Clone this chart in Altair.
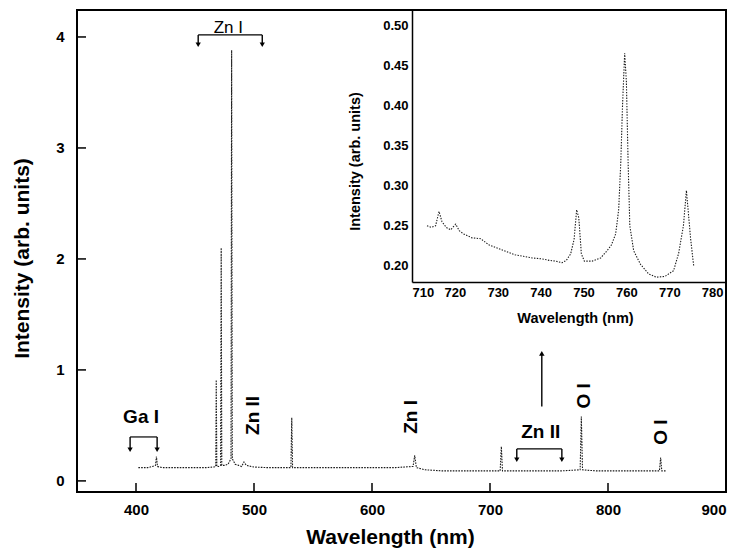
import altair as alt
import pandas as pd

# ---- main spectrum (wavelength nm, intensity arb. units) ----
main_wl = [402, 410, 414, 416.5, 417.3, 418.2, 422, 430, 440, 450,
           460, 466, 467.6, 468.0, 468.5, 470, 471.7, 472.2, 472.7, 475,
           478, 480.5, 481.05, 481.6, 484, 487, 489.5, 491.5, 493.5, 500,
           510, 520, 531.3, 532.0, 532.7, 540, 560, 580, 600, 620,
           634.8, 636.2, 637.6, 645, 660, 680, 700, 708.6, 709.6, 710.6,
           720, 740, 760, 776.4, 777.4, 778.4, 790, 810, 830, 843.6,
           844.6, 845.6, 849]
main_int = [0.12, 0.12, 0.13, 0.14, 0.22, 0.13, 0.12, 0.12, 0.12, 0.12,
            0.12, 0.125, 0.13, 0.91, 0.13, 0.13, 0.14, 2.10, 0.14, 0.14,
            0.15, 0.2, 3.88, 0.2, 0.15, 0.14, 0.13, 0.17, 0.14, 0.125,
            0.12, 0.12, 0.12, 0.57, 0.12, 0.12, 0.12, 0.12, 0.12, 0.12,
            0.13, 0.23, 0.12, 0.1, 0.09, 0.09, 0.09, 0.09, 0.31, 0.09,
            0.09, 0.09, 0.09, 0.1, 0.58, 0.1, 0.09, 0.09, 0.09, 0.09,
            0.21, 0.09, 0.09]

# ---- inset spectrum ----
ins_wl = [713.5, 714.5, 715.5, 716.3, 717, 718, 719, 720.2, 721, 722,
          724, 726, 728, 730, 732, 734, 736, 738, 740, 742,
          743.5, 745, 746, 747, 747.8, 748.4, 748.9, 749.5, 750.2, 752,
          754, 755.5, 756.5, 757.5, 758.2, 758.7, 759.1, 759.6, 760, 760.4,
          760.8, 761.7, 763.3, 765.2, 767, 769, 771, 772.2, 773.3, 774,
          775, 775.7]
ins_int = [0.25, 0.248, 0.25, 0.268, 0.255, 0.248, 0.245, 0.252, 0.244, 0.24,
           0.235, 0.234, 0.226, 0.222, 0.218, 0.214, 0.212, 0.21, 0.209, 0.207,
           0.206, 0.204, 0.207, 0.215, 0.233, 0.27, 0.26, 0.215, 0.206, 0.206,
           0.21, 0.219, 0.226, 0.24, 0.27, 0.33, 0.40, 0.465, 0.43, 0.33,
           0.25, 0.219, 0.202, 0.19, 0.186, 0.187, 0.194, 0.216, 0.25, 0.294,
           0.233, 0.2]

# ---- axis ticks ----
x_ticks = [400, 500, 600, 700, 800, 900]
y_ticks = [0, 1, 2, 3, 4]
ins_x_ticks = [710, 720, 730, 740, 750, 760, 770, 780]
ins_y_ticks = [0.20, 0.25, 0.30, 0.35, 0.40, 0.45, 0.50]

# ---- annotations (data units) ----
lab_plain = ["Zn I"]
lab_plain_x = [478.2]
lab_plain_y = [4.08]

lab_bold = ["Ga I", "Zn II"]
lab_bold_x = [404.3, 743.0]
lab_bold_y = [0.577, 0.44]

lab_rot = ["Zn II", "Zn I", "O I", "O I"]
lab_rot_x = [499.4, 632.7, 779.5, 844.9]
lab_rot_y = [0.59, 0.577, 0.766, 0.44]

# brackets: horizontal segments
br_x1 = [452.7, 395.0, 722.7]
br_x2 = [507.0, 417.9, 760.9]
br_y = [4.018, 0.396, 0.288]
# downward arrows at bracket ends
dn_x = [452.7, 507.0, 395.0, 417.9, 722.7, 760.9]
dn_top = [4.018, 4.018, 0.396, 0.396, 0.288, 0.288]
dn_tip = [3.93, 3.93, 0.28, 0.28, 0.19, 0.19]
# upward arrow pointing to inset
up_x = [743.9]
up_bot = [0.67]
up_tip = [1.15]

FONT = "Liberation Sans"
W, H = 649, 482

main_df = pd.DataFrame({"wl": main_wl, "inten": main_int})
ins_df = pd.DataFrame({"wl": ins_wl, "inten": ins_int})

xs = alt.Scale(domain=[350, 900], nice=False, zero=False)
ys = alt.Scale(domain=[-0.1, 4.243], nice=False, zero=False)

x_axis = alt.Axis(
    values=x_ticks, ticks=False, grid=False, domain=False,
    title="Wavelength (nm)", titleFont=FONT, titleFontSize=21,
    titleFontWeight="bold", titleColor="black",
    titleX=313, titleY=45, titleBaseline="middle", titleAlign="center",
    labelFont=FONT, labelFontSize=15, labelFontWeight="bold",
    labelColor="black", labelPadding=10)
y_axis = alt.Axis(
    values=y_ticks, ticks=False, grid=False, domain=False, format="d",
    title="Intensity (arb. units)", titleFont=FONT, titleFontSize=21,
    titleFontWeight="bold", titleColor="black",
    titleX=-55, titleY=248, titleBaseline="middle", titleAlign="center",
    titleAngle=270,
    labelFont=FONT, labelFontSize=15, labelFontWeight="bold",
    labelColor="black", labelPadding=13)


def X(field):
    return alt.X(field, scale=xs, axis=x_axis, title="Wavelength (nm)")


def Y(field):
    return alt.Y(field, scale=ys, axis=y_axis, title="Intensity (arb. units)")


spec = alt.Chart(main_df).mark_line(
    color="#1a1a1a", strokeWidth=1.1, strokeDash=[1.6, 1.2], clip=True
).encode(x=X("wl:Q"), y=Y("inten:Q"))

xt = alt.Chart(pd.DataFrame({"t": x_ticks})).mark_rule(
    color="black", strokeWidth=1.5
).encode(x=X("t:Q"), y=alt.value(H), y2=alt.value(H - 9))

yt = alt.Chart(pd.DataFrame({"t": y_ticks})).mark_rule(
    color="black", strokeWidth=1.5
).encode(y=Y("t:Q"), x=alt.value(0), x2=alt.value(9))


def txt(labels, xv, yv, **kw):
    df = pd.DataFrame({"label": labels, "x": xv, "y": yv})
    return alt.Chart(df).mark_text(font=FONT, color="black", **kw).encode(
        x=X("x:Q"), y=Y("y:Q"), text="label:N")


t_plain = txt(lab_plain, lab_plain_x, lab_plain_y, fontSize=17,
              fontWeight="normal", baseline="middle", align="center")
t_bold = txt(lab_bold, lab_bold_x, lab_bold_y, fontSize=19,
             fontWeight="bold", baseline="middle", align="center")
t_rot = txt(lab_rot, lab_rot_x, lab_rot_y, fontSize=19,
            fontWeight="bold", baseline="middle", align="center", angle=270)

br = alt.Chart(pd.DataFrame({"x1": br_x1, "x2": br_x2, "y": br_y})).mark_rule(
    color="black", strokeWidth=1.2
).encode(x=X("x1:Q"), x2="x2:Q", y=Y("y:Q"))

dn = alt.Chart(pd.DataFrame({"x": dn_x, "y1": dn_top, "y2": dn_tip})).mark_rule(
    color="black", strokeWidth=1.4
).encode(x=X("x:Q"), y=Y("y1:Q"), y2="y2:Q")
dn_head = alt.Chart(pd.DataFrame({"x": dn_x, "y": dn_tip})).mark_point(
    shape="triangle-down", filled=True, color="black", size=28, opacity=1
).encode(x=X("x:Q"), y=Y("y:Q"))

up = alt.Chart(pd.DataFrame({"x": up_x, "y1": up_bot, "y2": up_tip})).mark_rule(
    color="black", strokeWidth=1.4
).encode(x=X("x:Q"), y=Y("y1:Q"), y2="y2:Q")
up_head = alt.Chart(pd.DataFrame({"x": up_x, "y": up_tip})).mark_point(
    shape="triangle-up", filled=True, color="black", size=30, opacity=1
).encode(x=X("x:Q"), y=Y("y:Q"))

main = alt.layer(spec, xt, yt, br, dn, dn_head, up, up_head,
                 t_plain, t_bold, t_rot)

# ---- inset ----
ixs = alt.Scale(domain=[710, 783], range=[335, 648], nice=False, zero=False)
iys = alt.Scale(domain=[0.18, 0.519], range=[272, 0], nice=False, zero=False)

inset = alt.Chart(ins_df).mark_line(
    color="#1a1a1a", strokeWidth=1.1, strokeDash=[1.4, 1.4]
).encode(
    x=alt.X("wl:Q", scale=ixs, axis=alt.Axis(
        orient="bottom", offset=-(H - 272), values=ins_x_ticks, format="d",
        ticks=False, grid=False, domain=True, domainColor="black",
        domainWidth=1.5,
        title="Wavelength (nm)", titleFont=FONT, titleFontSize=14.5,
        titleFontWeight="bold", titleColor="black",
        titleX=498, titleY=36, titleBaseline="middle", titleAlign="center",
        labelFont=FONT, labelFontSize=13, labelFontWeight="bold",
        labelColor="black", labelPadding=4)),
    y=alt.Y("inten:Q", scale=iys, axis=alt.Axis(
        orient="left", offset=-335, values=ins_y_ticks, format=".2f",
        ticks=False, grid=False, domain=True, domainColor="black",
        domainWidth=1.5,
        title="Intensity (arb. units)", titleFont=FONT, titleFontSize=14.5,
        titleFontWeight="bold", titleColor="black",
        titleX=-57, titleY=151, titleBaseline="middle", titleAlign="center",
        titleAngle=270,
        labelFont=FONT, labelFontSize=13, labelFontWeight="bold",
        labelColor="black", labelPadding=4)),
)

chart = alt.layer(main, inset).resolve_scale(
    x="independent", y="independent"
).properties(
    width=W, height=H,
    autosize=alt.AutoSizeParams(type="none"),
    padding={"left": 77, "top": 10, "right": 15, "bottom": 62},
    background="white",
).configure_view(stroke="black", strokeWidth=2)

chart.save("out.html", embed_options={"renderer": "svg", "actions": False})
